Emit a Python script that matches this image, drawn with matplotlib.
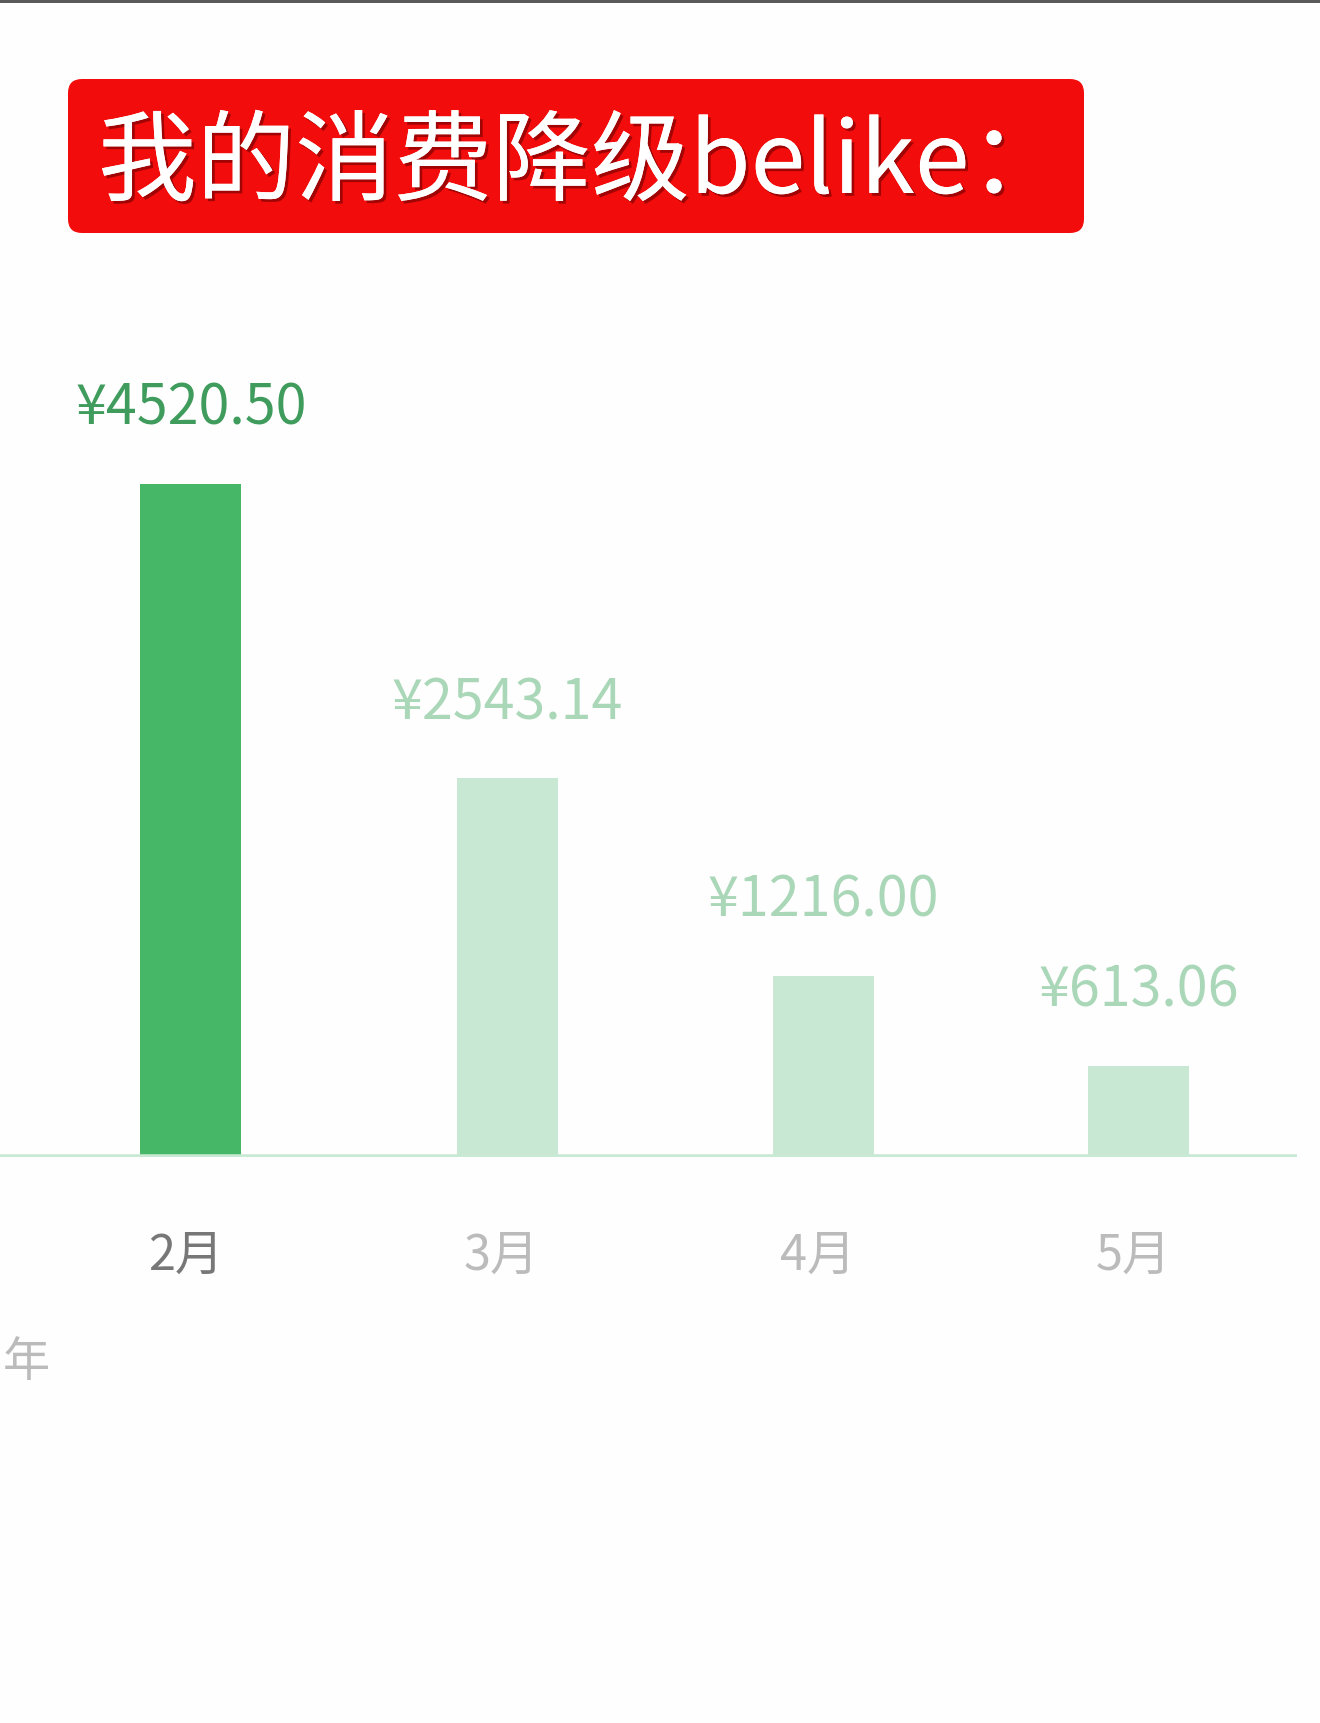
import matplotlib
matplotlib.use('Agg')
import matplotlib.pyplot as plt
from matplotlib.patches import FancyBboxPatch, Rectangle
import matplotlib.patheffects as pe

plt.rcParams['font.family'] = ['Noto Sans CJK SC', 'DejaVu Sans']

TITLE = '我的消费降级belike：'
MONTHS = ['2月', '3月', '4月', '5月']
SPENDING = [4520.50, 2543.14, 1216.00, 613.06]
VALUE_LABELS = ['¥4520.50', '¥2543.14', '¥1216.00', '¥613.06']
YEAR_LABEL = '年'

W, H = 1320, 1723
fig = plt.figure(figsize=(W / 100, H / 100), dpi=100)
fig.patch.set_facecolor('#fefefe')

# chart axes: baseline at y=1157 px, tallest bar top at y=484 px
base_frac = (H - 1157) / H
top_frac = (H - 484) / H
ax_h = 0.55
ax = fig.add_axes([0, base_frac, 1, ax_h])
ax.set_ylim(0, max(SPENDING) * ax_h / (top_frac - base_frac))
spacing = 316.0
ax.set_xlim(-191 / spacing, (W - 191) / spacing)
ax.axis('off')

x = list(range(len(MONTHS)))
bar_colors = ['#46b767'] + ['#c8e8d3'] * 3
label_colors = ['#3f9c5c'] + ['#a9d7b7'] * 3
month_colors = ['#777777'] + ['#bbbbbb'] * 3

ax.bar(x, SPENDING, width=101 / spacing, color=bar_colors, zorder=2)
ax.plot([ax.get_xlim()[0], (1297 - 191) / spacing], [0, 0],
        color='#c8e9d3', lw=4, solid_capstyle='butt', zorder=3)

for i, v in enumerate(SPENDING):
    ax.annotate(VALUE_LABELS[i], (i, v), xytext=(0, 54), textcoords='offset points',
                ha='center', va='center', fontsize=40, color=label_colors[i],
                fontweight='medium' if i == 0 else 'normal')
    ax.annotate(MONTHS[i], (i, 0), xytext=(-4, -71), textcoords='offset points',
                ha='center', va='center', fontsize=35, color=month_colors[i],
                fontweight='light')

# overlay in pixel coordinates for the banner and loose text
ov = fig.add_axes([0, 0, 1, 1], zorder=5)
ov.set_xlim(0, W)
ov.set_ylim(H, 0)
ov.axis('off')
ov.patch.set_alpha(0)

ov.add_patch(Rectangle((0, 0), W, 3, color='#5a5a5a', lw=0))
ov.add_patch(FancyBboxPatch((68, 79), 1016, 154,
                            boxstyle='round,pad=0,rounding_size=14',
                            fc='#f20c0c', ec='none'))
ov.text(98, 165, TITLE, color='white', fontsize=71, fontweight='medium',
        ha='left', va='center',
        path_effects=[pe.withSimplePatchShadow(offset=(2, -2), shadow_rgbFace='#6a0000', alpha=0.6),
                      pe.Normal()])
ov.text(50, 1363, YEAR_LABEL, color='#bbbbbb', fontsize=34, fontweight='light',
        ha='right', va='center')

fig.savefig('out.png', dpi=100, facecolor=fig.get_facecolor())
